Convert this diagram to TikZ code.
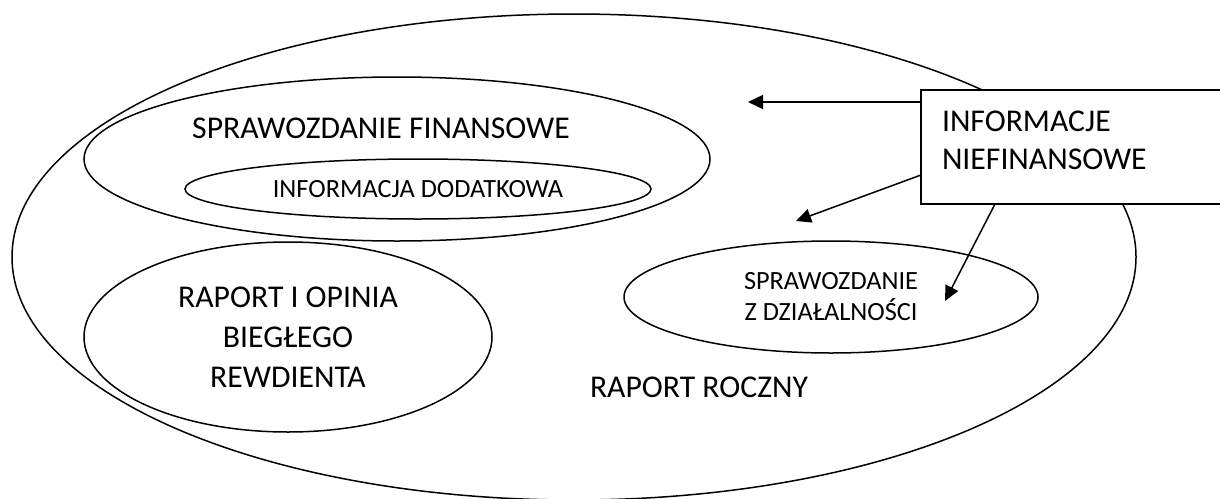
\documentclass[tikz,border=0pt]{standalone}
\usepackage{fontspec}
\setmainfont{Carlito}
\usetikzlibrary{arrows.meta,shapes.geometric}
\newcommand{\bigtxt}{\fontsize{31.7}{38}\selectfont}
\newcommand{\smalltxt}{\fontsize{26.3}{31}\selectfont}

\begin{document}
\begin{tikzpicture}[
  x=1pt,y=-1pt,
  every node/.style={font=\bigtxt},
  oval/.style={draw,ellipse,line width=1.5pt,inner sep=0pt,align=center},
  infobox/.style={draw,fill=white,line width=1.5pt,outer sep=0pt,anchor=north west,
    minimum width=360pt,minimum height=114pt,text width=318pt,inner xsep=21pt,
    align=left,text depth=51pt},
  arr/.style={-{Triangle[length=15pt,width=14pt]},line width=1.5pt}
]
  \useasboundingbox (0,0) rectangle (1220,498);

  % raport roczny and what it holds
  \node[oval,minimum width=1124pt,minimum height=486pt] (rr) at (574,257) {};
  \node[anchor=base] (rrtxt) at (699,397) {RAPORT ROCZNY};
  \node[oval,minimum width=626pt,minimum height=164pt] (sf) at (397,159) {};
  \node[anchor=base] (sftxt) at (381,138) {SPRAWOZDANIE FINANSOWE};
  \node[oval,font=\smalltxt,minimum width=466pt,minimum height=60pt] (id) at (418,189) {INFORMACJA DODATKOWA};
  \node[oval,font={\fontsize{31.7}{40}\selectfont},minimum width=408pt,minimum height=190pt] (rbr) at (288,337) {RAPORT I OPINIA\\BIEGŁEGO\\REWDIENTA};
  \node[oval,font=\smalltxt,minimum width=414pt,minimum height=112pt] (szd) at (831,297) {SPRAWOZDANIE\\Z DZIAŁALNOŚCI};

  % informacje niefinansowe
  \node[infobox] (info) at (921,90) {INFORMACJE\\NIEFINANSOWE};

  \coordinate (t1) at (748,102);
  \coordinate (t2) at (796,221);
  \coordinate (t3) at (945,301);
  \draw[arr] (info.west |- t1) -- (t1);
  \draw[arr] ([yshift=29pt]info.south west) -- (t2);
  \draw[arr] ([xshift=74pt]info.south west) -- (t3);
\end{tikzpicture}
\end{document}
